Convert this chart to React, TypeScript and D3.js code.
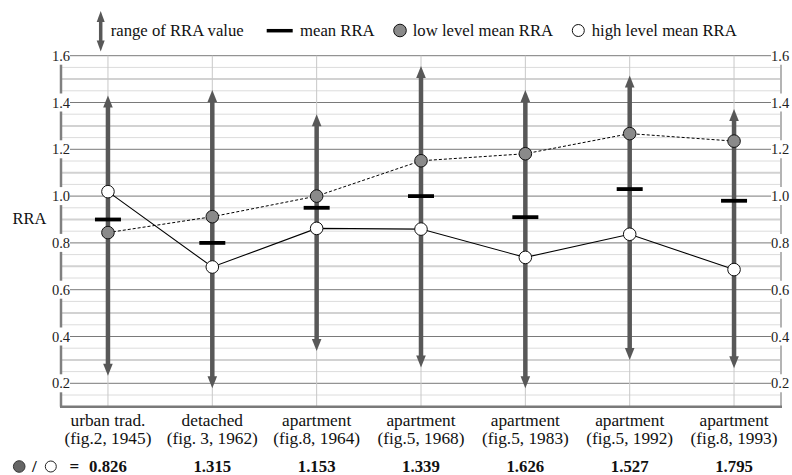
import React from "react";
import * as d3 from "d3";

const categories = ["urban trad.", "detached", "apartment", "apartment", "apartment", "apartment", "apartment"];
const subLabels = ["(fig.2, 1945)", "(fig. 3, 1962)", "(fig.8, 1964)", "(fig.5, 1968)", "(fig.5, 1983)", "(fig.5, 1992)", "(fig.8, 1993)"];
const rangeMax = [1.43, 1.453, 1.35, 1.556, 1.453, 1.515, 1.372];
const rangeMin = [0.232, 0.179, 0.338, 0.268, 0.179, 0.3, 0.264];
const meanRRA = [0.9, 0.8, 0.95, 1.0, 0.91, 1.03, 0.98];
const lowMean = [0.844, 0.912, 1.0, 1.151, 1.181, 1.267, 1.235];
const highMean = [1.019, 0.697, 0.862, 0.859, 0.738, 0.837, 0.686];
const ratios = ["0.826", "1.315", "1.153", "1.339", "1.626", "1.527", "1.795"];
const majorTicks = [0.2, 0.4, 0.6, 0.8, 1.0, 1.2, 1.4, 1.6];

const W = 792, H = 475;
const FONT = "Liberation Serif, DejaVu Serif, Times New Roman, serif";
const left = 61, right = 781;

export default function App() {
  const x = d3.scalePoint<number>().domain(d3.range(categories.length)).range([left, right]).padding(0.45);
  const y = d3.scaleLinear().domain([0.1, 1.6]).range([406.7, 55.7]);
  const minorVals = d3.range(3, 32).map((k) => k * 0.05).filter((v) => Math.abs(v * 5 - Math.round(v * 5)) > 1e-6 && v < 1.6);
  const gap = 9;
  const axisSegs: [number, number][] = [];
  for (let i = majorTicks.length - 1; i >= 0; i--) {
    const top = y(majorTicks[i]) + gap;
    const bot = i > 0 ? y(majorTicks[i - 1]) - gap : y(0.1);
    axisSegs.push([top, bot]);
  }
  const lineGen = d3.line<number>().x((_, i) => x(i) as number).y((d) => y(d));
  const arrowColor = "#585858";
  const headL = 12, headW = 4.8;

  return (
    <svg width={W} height={H} style={{ position: "absolute", left: 0, top: 0, background: "#fff", fontFamily: FONT }}>
      {/* minor grid */}
      {minorVals.map((v, i) => {
        const isTenth = Math.abs(v * 10 - Math.round(v * 10)) < 1e-6;
        return (
          <line key={"mn" + i} x1={left} x2={right} y1={y(v)} y2={y(v)}
            stroke={isTenth ? "#d2d2d2" : "#dcdcdc"} strokeWidth={isTenth ? 2 : 1} />
        );
      })}
      {/* major grid */}
      {majorTicks.map((v) => (
        <line key={"mj" + v} x1={70} x2={771} y1={y(v)} y2={y(v)} stroke="#7a7a7a" strokeWidth={1} />
      ))}
      {/* category vertical grid */}
      {categories.map((_, i) => (
        <line key={"vg" + i} x1={x(i)} x2={x(i)} y1={y(1.6)} y2={y(0.1)} stroke="#c8c8c8" strokeWidth={1} />
      ))}
      {/* axes */}
      {axisSegs.map(([a, b], i) => (
        <g key={"ax" + i}>
          <line x1={left} x2={left} y1={a} y2={b} stroke="#808080" strokeWidth={2.5} />
          <line x1={right} x2={right} y1={a} y2={b} stroke="#b4b4b4" strokeWidth={2} />
        </g>
      ))}
      <line x1={left - 1} x2={right + 1} y1={y(0.1)} y2={y(0.1)} stroke="#7a7a7a" strokeWidth={2.5} />
      {/* tick labels */}
      {majorTicks.map((v) => (
        <g key={"tl" + v} fontSize={14.5} fill="#222">
          <text x={70} y={y(v) + 5} textAnchor="end">{d3.format(".1f")(v)}</text>
          <text x={771} y={y(v) + 5} textAnchor="start">{d3.format(".1f")(v)}</text>
        </g>
      ))}
      <text x={12.5} y={223.5} fontSize={16.5} fill="#111">RRA</text>

      {/* range arrows */}
      {categories.map((_, i) => {
        const cx = x(i) as number;
        const yt = y(rangeMax[i]);
        const yb = y(rangeMin[i]);
        return (
          <g key={"ar" + i} fill={arrowColor}>
            <line x1={cx} x2={cx} y1={yt + headL - 1} y2={yb - headL + 1} stroke={arrowColor} strokeWidth={4.5} />
            <path d={`M${cx},${yt} L${cx + headW},${yt + headL} L${cx - headW},${yt + headL} Z`} />
            <path d={`M${cx},${yb} L${cx + headW},${yb - headL} L${cx - headW},${yb - headL} Z`} />
          </g>
        );
      })}
      {/* mean dashes */}
      {meanRRA.map((v, i) => (
        <line key={"me" + i} x1={(x(i) as number) - 13} x2={(x(i) as number) + 13} y1={y(v)} y2={y(v)} stroke="#000" strokeWidth={3.8} />
      ))}
      {/* lines */}
      <path d={lineGen(lowMean) || ""} fill="none" stroke="#000" strokeWidth={1} strokeDasharray="3,2" />
      <path d={lineGen(highMean) || ""} fill="none" stroke="#000" strokeWidth={1.1} />
      {lowMean.map((v, i) => (
        <circle key={"lo" + i} cx={x(i)} cy={y(v)} r={6.3} fill="#8a8a8a" stroke="#111" strokeWidth={1} />
      ))}
      {highMean.map((v, i) => (
        <circle key={"hi" + i} cx={x(i)} cy={y(v)} r={6.3} fill="#fff" stroke="#111" strokeWidth={1} />
      ))}

      {/* category labels */}
      {categories.map((c, i) => (
        <g key={"cl" + i} fontSize={17.3} fill="#111" textAnchor="middle">
          <text x={x(i)} y={425.5}>{c}</text>
          <text x={x(i)} y={443.5}>{subLabels[i]}</text>
        </g>
      ))}
      {/* ratio row */}
      <circle cx={19.2} cy={466.5} r={5.8} fill="#666" stroke="#333" strokeWidth={1} />
      <text x={32} y={471.5} fontSize={17} fontWeight="bold" fill="#111">/</text>
      <circle cx={50.8} cy={466.5} r={5.5} fill="#fff" stroke="#222" strokeWidth={1} />
      <text x={69.5} y={471.5} fontSize={17} fontWeight="bold" fill="#111">=</text>
      {ratios.map((r, i) => (
        <text key={"ra" + i} x={x(i)} y={471.5} fontSize={16.8} fontWeight="bold" textAnchor="middle" fill="#111">{r}</text>
      ))}

      {/* legend */}
      <g>
        <line x1={100.7} x2={100.7} y1={20} y2={43} stroke={arrowColor} strokeWidth={3.5} />
        <path d={`M100.7,11 L104.7,22 L96.7,22 Z`} fill={arrowColor} />
        <path d={`M100.7,51.5 L104.7,40.5 L96.7,40.5 Z`} fill={arrowColor} />
        <text x={110.7} y={35.5} fontSize={16.7} fill="#111">range of RRA value</text>
        <line x1={266.7} x2={292.7} y1={30.7} y2={30.7} stroke="#000" strokeWidth={3.5} />
        <text x={300} y={35.5} fontSize={16.7} fill="#111">mean RRA</text>
        <circle cx={400} cy={30.5} r={6.3} fill="#8a8a8a" stroke="#111" strokeWidth={1} />
        <text x={412.7} y={35.5} fontSize={16.7} fill="#111">low level mean RRA</text>
        <circle cx={578.3} cy={30.5} r={6} fill="#fff" stroke="#111" strokeWidth={1} />
        <text x={591.7} y={35.5} fontSize={16.7} fill="#111">high level mean RRA</text>
      </g>
    </svg>
  );
}
